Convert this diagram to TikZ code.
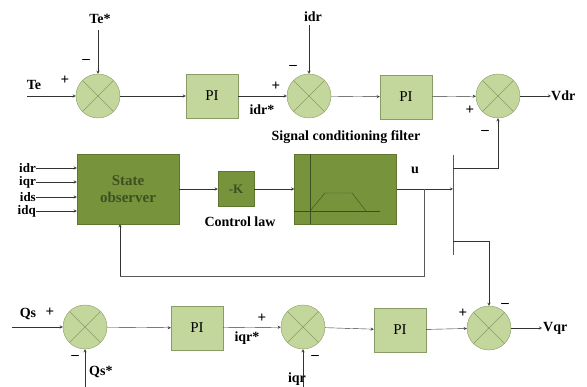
\documentclass[tikz,border=0pt]{standalone}
\usepackage{fontspec}
\setmainfont{Liberation Serif}
\usepackage{xcolor}
\usepackage{tikz}
\usetikzlibrary{arrows,positioning}

\definecolor{lightolive}{HTML}{C3D69B}
\definecolor{olive}{HTML}{77933C}
\definecolor{oliveline}{HTML}{8A9C66}
\definecolor{darkolive}{HTML}{3E5020}

\begin{document}
\begin{tikzpicture}[
  x=1pt, y=-1pt,
  sumnode/.style={circle, draw=oliveline, fill=lightolive, minimum size=44pt, inner sep=0pt,
    path picture={\draw[oliveline] (path picture bounding box.north west) -- (path picture bounding box.south east)
      (path picture bounding box.north east) -- (path picture bounding box.south west);}},
  pibox/.style={rectangle, draw=oliveline, fill=lightolive, minimum width=52pt, minimum height=44pt, font=\fontsize{15}{16}\selectfont},
  bigbox/.style={rectangle, draw=olive!80!black, fill=olive, minimum width=102pt, minimum height=70pt},
  lbl/.style={font=\bfseries\fontsize{14}{15}\selectfont, inner sep=1pt},
  sgn/.style={font=\bfseries\fontsize{15}{15}\selectfont, inner sep=0pt},
  arrow/.style={->,>=stealth,draw=black!80},
  wire/.style={draw=black!65}
]
\useasboundingbox (0,0) rectangle (587,387);

% d-axis row
\node[sumnode] (s1) at (98,96) {};
\node[pibox] (pi1) at (212,96) {PI};
\node[sumnode] (s2) at (309,96) {};
\node[pibox] (pi2) at (406,97) {PI};
\node[sumnode] (s3) at (498,96) {};

\coordinate (te) at (27,96);
\coordinate (teref) at (98,30);
\coordinate (idrin) at (309,25);
\coordinate (vdr) at (551,96);

\draw[arrow] (te) -- (s1);
\draw[arrow] (teref) -- (s1);
\draw[arrow] (s1) -- (pi1);
\draw[arrow] (pi1) -- (s2);
\draw[arrow] (idrin) -- (s2);
\draw[arrow] (s2) -- (pi2);
\draw[arrow] (pi2) -- (s3);
\draw[arrow] (s3) -- (vdr);

\node[lbl] at (34,85) {Te};
\node[lbl] at (100,19) {Te*};
\node[sgn] at (65,80) {+};
\node[sgn] at (86,61) {--};
\node[lbl] at (262,110) {idr*};
\node[sgn] at (276,86) {+};
\node[lbl] at (313,17) {idr};
\node[sgn] at (293,67) {--};
\node[sgn] at (470,110) {+};
\node[sgn] at (485,132) {--};
\node[lbl, right, inner sep=0pt] at (vdr) {Vdr};
\node[lbl] at (346,137) {Signal conditioning filter};

% observer and control law
\node[bigbox, text width=90pt, align=center, text=darkolive,
  font=\bfseries\fontsize{15}{17}\selectfont] (obs) at (128,189) {State\\observer};
\node[rectangle, draw=olive!80!black, fill=olive, minimum width=36pt, minimum height=35pt,
  font=\bfseries\fontsize{13}{14}\selectfont, text=darkolive] (gain) at (236,189) {-K};
\node[lbl] at (240,222) {Control law};
\node[bigbox] (filt) at (345.5,189) {};

% filter curve
\draw[darkolive] (310,154) -- (310,224);
\draw[darkolive] (294,211) -- (380,211);
\draw[darkolive] (310,211) -- (325,193) -- (352,193) -- (366,211);

\foreach \nm/\yy in {idr/168, iqr/182, ids/197, idq/211}{
  \coordinate (in\nm) at (36,\yy);
  \node[lbl, left, inner sep=0pt, font=\bfseries\fontsize{13}{14}\selectfont] at (in\nm) {\nm};
  \draw[arrow] (in\nm) -- (obs.west |- in\nm);
}

\draw[arrow] (obs) -- (gain);
\draw[arrow] (gain) -- (filt);

% output bus
\coordinate (bus) at (453,189);
\coordinate (bustop) at (453,155);
\coordinate (busbot) at (453,255);
\coordinate (tap) at (424,189);
\coordinate (fb) at (120,276);
\draw[arrow] (filt) -- (bus);
\draw[wire] (bustop) -- (busbot);
\node[lbl] at (415,170) {u};
\draw[wire] (tap) |- (fb);
\draw[arrow] (fb) -- (fb |- obs.south);

% q-axis row
\node[sumnode] (s4) at (85,327) {};
\node[pibox] (pi3) at (197,328) {PI};
\node[sumnode] (s5) at (303,327) {};
\node[pibox] (pi4) at (400,330) {PI};
\node[sumnode] (s6) at (489,328) {};

\coordinate (qs) at (12,327);
\coordinate (qsref) at (85,387);
\coordinate (iqrin) at (303,387);
\coordinate (vqr) at (542,328);

\draw[arrow] (qs) -- (s4);
\draw[arrow] (qsref) -- (s4);
\draw[arrow] (s4) -- (pi3);
\draw[arrow] (pi3) -- (s5);
\draw[arrow] (iqrin) -- (s5);
\draw[arrow] (s5) -- (pi4);
\draw[arrow] (pi4) -- (s6);
\draw[arrow] (s6) -- (vqr);

\draw[arrow] (bus |- 0,168) -| (s3.south);
\draw[arrow] (bus |- 0,241) -| (s6.north);

\node[lbl] at (28,314) {Qs};
\node[sgn] at (50,312) {+};
\node[sgn] at (75,357) {--};
\node[lbl, right] at (88,372) {Qs*};
\node[lbl] at (247,338) {iqr*};
\node[sgn] at (262,318) {+};
\node[lbl] at (297,379) {iqr};
\node[sgn] at (315,357) {--};
\node[sgn] at (463,313) {+};
\node[sgn] at (505,305) {--};
\node[lbl, right] at (vqr) {Vqr};

\end{tikzpicture}
\end{document}
